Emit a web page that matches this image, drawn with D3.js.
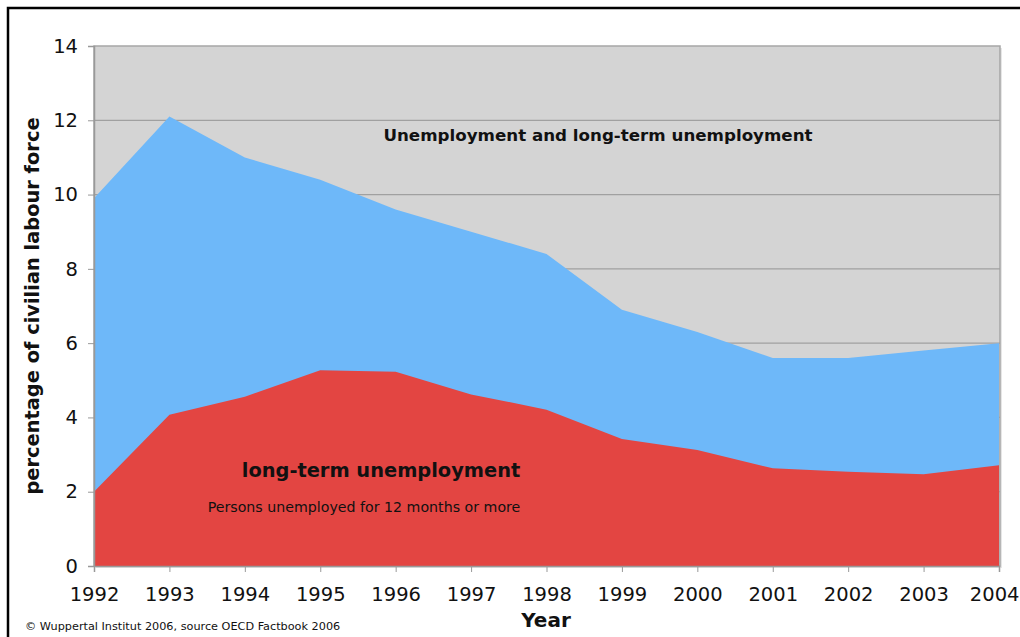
<!DOCTYPE html>
<html>
<head>
<meta charset="utf-8">
<script src="https://cdn.jsdelivr.net/npm/d3@7"></script>
<style>
  html, body { margin: 0; padding: 0; background: #fff; }
  svg { display: block; font-family: "DejaVu Sans", Verdana, sans-serif; }
</style>
</head>
<body>
<svg id="chart" width="1020" height="637"></svg>
<script>
// Unemployment rates, % of civilian labour force
const years = [1992, 1993, 1994, 1995, 1996, 1997, 1998, 1999, 2000, 2001, 2002, 2003, 2004];
const totalUnemployment = [9.9, 12.1, 11.0, 10.4, 9.6, 9.0, 8.4, 6.9, 6.3, 5.6, 5.6, 5.8, 6.0];
const longTermUnemployment = [2.0, 4.07, 4.56, 5.27, 5.23, 4.62, 4.21, 3.42, 3.12, 2.63, 2.54, 2.47, 2.71];
const yTicks = [0, 2, 4, 6, 8, 10, 12, 14];

const svg = d3.select("#chart");
const margin = { left: 94, right: 20, top: 46, bottom: 71 };
const W = 1020, H = 637;
const innerRight = W - margin.right;   // 1000
const innerBottom = H - margin.bottom; // 566

const x = d3.scaleLinear().domain([1992, 2004]).range([margin.left, 999]);
const y = d3.scaleLinear().domain([0, 14]).range([innerBottom, margin.top]);

// outer frame (left and top edges)
svg.append("path")
  .attr("d", `M8,${H} L8,8 L${W},8`)
  .attr("fill", "none").attr("stroke", "#000").attr("stroke-width", 2.5);

// plot background with soft shadow
svg.append("rect")
  .attr("x", margin.left + 2).attr("y", margin.top + 2)
  .attr("width", innerRight - margin.left).attr("height", innerBottom - margin.top)
  .attr("fill", "#e6e6e6");
svg.append("rect")
  .attr("x", margin.left).attr("y", margin.top)
  .attr("width", innerRight - margin.left).attr("height", innerBottom - margin.top)
  .attr("fill", "#d4d4d4").attr("stroke", "#a6a6a6").attr("stroke-width", 1.5);

// horizontal gridlines
svg.append("g").selectAll("line").data(yTicks.filter(t => t > 0 && t < 14)).join("line")
  .attr("x1", margin.left).attr("x2", innerRight)
  .attr("y1", d => y(d)).attr("y2", d => y(d))
  .attr("stroke", "#a0a0a0").attr("stroke-width", 1.2);

const totalData = years.map((yr, i) => ({ yr, v: totalUnemployment[i] }));
const longData = years.map((yr, i) => ({ yr, v: longTermUnemployment[i] }));

const area = d3.area().x(d => x(d.yr)).y0(y(0)).y1(d => y(d.v));

svg.append("path").datum(totalData).attr("d", area).attr("fill", "#6eb8f9");
svg.append("path").datum(longData).attr("d", area).attr("fill", "#e34542");

// y axis
const yAxis = d3.axisLeft(y).tickValues(yTicks).tickSize(6).tickPadding(10).tickFormat(d3.format("d"));
const gy = svg.append("g").attr("transform", `translate(${margin.left},0)`).call(yAxis);
gy.select(".domain").attr("stroke", "#999").attr("stroke-width", 1.5);
gy.selectAll(".tick line").attr("stroke", "#999");
gy.selectAll(".tick text").attr("font-size", 19.5).attr("fill", "#111")
  .attr("font-family", "DejaVu Sans, Verdana, sans-serif");

// x axis
const xAxis = d3.axisBottom(x).tickValues(years).tickSize(6).tickPadding(15).tickFormat(d3.format("d"));
const gx = svg.append("g").attr("transform", `translate(0,${innerBottom})`).call(xAxis);
gx.select(".domain").attr("stroke", "#999").attr("stroke-width", 1.5);
gx.selectAll(".tick line").attr("stroke", "#999");
gx.selectAll(".tick text").attr("font-size", 19.5).attr("fill", "#111")
  .attr("font-family", "DejaVu Sans, Verdana, sans-serif");
// keep the last year label inside the page edge
gx.selectAll(".tick text").filter(d => d === 2004)
  .attr("text-anchor", "end").attr("dx", 20);

// axis titles
svg.append("text").attr("x", 546).attr("y", 627).attr("text-anchor", "middle")
  .attr("font-size", 20).attr("font-weight", "bold").attr("fill", "#111").text("Year");
svg.append("text")
  .attr("transform", "translate(39,306) rotate(-90)")
  .attr("text-anchor", "middle").attr("font-size", 19.4).attr("font-weight", "bold").attr("fill", "#111")
  .text("percentage of civilian labour force");

// annotations
svg.append("text").attr("x", 598).attr("y", 141).attr("text-anchor", "middle")
  .attr("font-size", 16.7).attr("font-weight", "bold").attr("fill", "#111")
  .text("Unemployment and long-term unemployment");
svg.append("text").attr("x", 381).attr("y", 477).attr("text-anchor", "middle")
  .attr("font-size", 19.4).attr("font-weight", "bold").attr("fill", "#111")
  .text("long-term unemployment");
svg.append("text").attr("x", 364).attr("y", 512).attr("text-anchor", "middle")
  .attr("font-size", 14.2).attr("fill", "#111")
  .text("Persons unemployed for 12 months or more");
svg.append("text").attr("x", 25).attr("y", 630)
  .attr("font-size", 11.25).attr("fill", "#111")
  .text("© Wuppertal Institut 2006, source OECD Factbook 2006");
</script>
</body>
</html>
